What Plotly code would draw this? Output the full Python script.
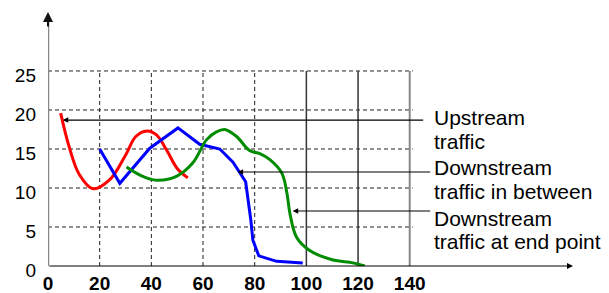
import plotly.graph_objects as go

# ---- data ----
up_x = [4.9, 8.0, 12.0, 17.4, 24.0, 30.0, 34.0, 38.3, 42.0, 46.0, 50.0, 54.1]
up_y = [19.6, 15.5, 11.8, 9.9, 11.1, 14.2, 16.6, 17.3, 16.8, 14.8, 12.5, 11.3]

mid_x = [20.0, 27.8, 39.4, 50.3, 58.7, 66.5, 71.6, 76.5, 78.5, 79.3, 81.6, 88.5, 98.6]
mid_y = [15.0, 10.6, 15.1, 17.7, 15.6, 15.0, 13.3, 10.8, 5.9, 3.3, 1.3, 0.6, 0.4]

end_x = [30.4, 36.0, 42.0, 49.7, 56.0, 61.4, 65.2, 68.4, 73.0, 78.0, 82.0, 86.0,
         90.5, 92.5, 93.6, 96.2, 101.3, 110.0, 118.0, 122.6]
end_y = [12.7, 11.6, 11.0, 11.5, 13.2, 16.2, 17.2, 17.5, 16.6, 14.8, 14.4, 13.6,
         11.9, 9.3, 6.8, 3.7, 2.0, 0.8, 0.4, 0.0]

x_ticks = [0, 20, 40, 60, 80, 100, 120, 140]
y_ticks = [0, 5, 10, 15, 20, 25]
dashed_x = [20, 40, 60, 80]
solid_x = [100, 120]
edge_x = [140]

label_lines = [
    ("Upstream", 19.0), ("traffic", 15.9),
    ("Downstream", 12.6), ("traffic in between", 9.5),
    ("Downstream", 6.15), ("traffic at end point", 3.1),
]
pointers = [(5.7, 18.7, 145.8), (73.4, 12.05, 148.5), (94.7, 7.05, 148.5)]

X_MAX = 203.2
Y_MAX = 32.56

fig = go.Figure()

shapes = []
for yv in y_ticks[1:]:
    shapes.append(dict(type="line", x0=0, x1=141.2, y0=yv, y1=yv, xref="x", yref="y",
                       line=dict(color="#222", width=1, dash="4px,3px"), layer="below"))
for xv in dashed_x:
    shapes.append(dict(type="line", x0=xv, x1=xv, y0=0, y1=25, xref="x", yref="y",
                       line=dict(color="#222", width=1, dash="4px,3px"), layer="below"))
for xv in solid_x:
    shapes.append(dict(type="line", x0=xv, x1=xv, y0=0, y1=25, xref="x", yref="y",
                       line=dict(color="#333", width=1.5), layer="below"))
for xv in edge_x:
    shapes.append(dict(type="line", x0=xv, x1=xv, y0=0, y1=25, xref="x", yref="y",
                       line=dict(color="#888", width=2), layer="below"))
# y axis shaft
shapes.append(dict(type="line", x0=0, x1=0, y0=0, y1=31.6, xref="x", yref="y",
                   line=dict(color="#888", width=2.5)))

fig.add_trace(go.Scatter(x=up_x, y=up_y, mode="lines", line=dict(color="#ff0000", width=3, shape="spline"),
                         showlegend=False, hoverinfo="skip", cliponaxis=False))
fig.add_trace(go.Scatter(x=mid_x, y=mid_y, mode="lines", line=dict(color="#0000ff", width=3),
                         showlegend=False, hoverinfo="skip", cliponaxis=False))
fig.add_trace(go.Scatter(x=end_x, y=end_y, mode="lines", line=dict(color="#008c00", width=3, shape="spline"),
                         showlegend=False, hoverinfo="skip", cliponaxis=False))

annotations = []
# x axis arrow
annotations.append(dict(x=X_MAX, y=0, ax=0, ay=0, xref="x", yref="y", axref="x", ayref="y",
                        text="", showarrow=True, arrowhead=2, arrowsize=1, arrowwidth=1.2,
                        arrowcolor="black"))
# y axis arrow head
annotations.append(dict(x=0, y=Y_MAX, ax=0, ay=30.5, xref="x", yref="y", axref="x", ayref="y",
                        text="", showarrow=True, arrowhead=2, arrowsize=1, arrowwidth=2,
                        arrowcolor="#111"))
for tipx, yy, startx in pointers:
    annotations.append(dict(x=tipx, y=yy, ax=startx, ay=yy, xref="x", yref="y", axref="x", ayref="y",
                            text="", showarrow=True, arrowhead=2, arrowsize=1, arrowwidth=1.1,
                            arrowcolor="black"))
for txt, yy in label_lines:
    annotations.append(dict(x=148.5, y=yy, xref="x", yref="y", text=txt, showarrow=False,
                            xanchor="left", yanchor="middle",
                            font=dict(family="Liberation Sans, Arial, sans-serif", size=21, color="black")))

# the page body adds an 8px offset; the figure is sized/placed to compensate
fig.update_layout(
    width=601, height=285,
    margin=dict(l=40, r=36, t=4, b=27, autoexpand=False),
    paper_bgcolor="white", plot_bgcolor="white",
    shapes=shapes, annotations=annotations,
    xaxis=dict(range=[0, X_MAX], showgrid=False, zeroline=False, showline=False,
               tickmode="array", tickvals=x_ticks, ticktext=[f"<b>{v}</b>" for v in x_ticks],
               ticks="", ticklabelstandoff=4, automargin=False,
               tickfont=dict(family="Liberation Sans, Arial, sans-serif", size=19, color="black")),
    yaxis=dict(range=[0, Y_MAX], showgrid=False, zeroline=False, showline=False,
               tickmode="array", tickvals=y_ticks, ticktext=[str(v) for v in y_ticks],
               ticks="", ticklabelstandoff=11, ticklabelshift=4, automargin=False,
               tickfont=dict(family="Liberation Sans, Arial, sans-serif", size=19, color="black")),
)

fig.write_html("out.html")
